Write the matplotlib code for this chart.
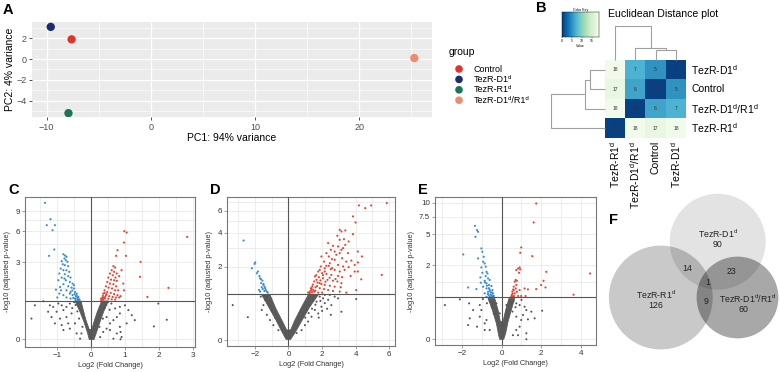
import numpy as np
import matplotlib
matplotlib.use('Agg')
import matplotlib.pyplot as plt
from matplotlib.patches import Circle, Polygon
from matplotlib.ticker import FixedLocator

plt.rcParams['font.family'] = ['Liberation Sans', 'DejaVu Sans']
plt.rcParams['mathtext.fontset'] = 'custom'
plt.rcParams['mathtext.rm'] = 'Liberation Sans'
plt.rcParams['mathtext.it'] = 'Liberation Sans:italic'
plt.rcParams['mathtext.bf'] = 'Liberation Sans:bold'

# ---------------- data ----------------
D1 = 'TezR-D1$^{\\rm d}$'
R1 = 'TezR-R1$^{\\rm d}$'
DR = 'TezR-D1$^{\\rm d}$/R1$^{\\rm d}$'

pca_groups = ['Control', 'TezR-D1\u1d48', 'TezR-R1\u1d48', 'TezR-D1\u1d48/R1\u1d48']
pca_pc1 = [-7.6, -9.6, -7.9, 25.3]
pca_pc2 = [1.9, 3.1, -5.2, 0.1]
pca_colors = ['#e2332a', '#1c2d6b', '#1a7558', '#f08a6c']

hm_rows = [D1, 'Control', DR, R1]
hm_cols = [R1, DR, 'Control', D1]
hm_values = [[18, 7, 5, 0],
             [17, 6, 0, 5],
             [18, 0, 6, 7],
             [0, 18, 17, 18]]
row_merges = [(0, 1, 5.0), (4, 2, 6.5), (5, 3, 17.7)]
col_merges = [(2, 3, 5.0), (1, 4, 6.5), (0, 5, 17.7)]

C_up = [(0.98,5.98),(1.05,5.81),(0.97,4.69),(0.78,3.96),(0.74,3.48),(1.03,3.48),(1.46,3.02),(1.44,2.07),
        (2.28,1.52),(1.66,1.14),(2.83,5.30),
        (0.66,2.72),(0.71,2.63),(0.61,2.46),(0.68,2.36),(0.76,2.26),(0.56,2.26),(0.64,2.16),(0.72,2.03),
        (0.51,2.03),(0.59,1.92),(0.68,1.89),(0.76,1.86),(0.48,1.80),(0.56,1.72),(0.66,1.69),(0.74,1.59),
        (0.44,1.59),(0.52,1.53),(0.62,1.49),(0.71,1.41),(0.80,1.41),(0.40,1.41),(0.48,1.34),(0.58,1.30),
        (0.68,1.25),(0.78,1.21),(0.36,1.27),(0.44,1.21),(0.54,1.17),(0.64,1.14),(0.74,1.12),(0.83,1.12),
        (0.34,1.12),(0.41,1.08),(0.51,1.07),(0.61,1.05),(0.71,1.04),(0.36,1.04),(0.87,1.17),(0.97,1.41),
        (0.95,1.72),(0.83,2.11),(0.90,2.46),(0.30,1.02),(0.33,1.06),(0.38,1.10),(0.30,1.08),(0.42,1.15),
        (0.35,1.18),(0.46,1.25),(0.40,1.30)]
C_down = [(-1.35,10.61),(-1.19,7.65),(-1.30,6.77),(-1.06,6.77),(-1.13,6.10),(-1.08,4.02),(-1.23,3.48),
          (-1.94,2.46),(-0.81,3.61),(-0.76,3.50),(-0.72,3.40),(-0.78,3.27),(-0.86,3.07),(-0.74,3.14),
          (-0.69,3.02),(-0.83,2.85),(-0.77,2.79),(-0.67,2.72),(-0.89,2.56),(-0.81,2.46),(-0.72,2.46),
          (-0.64,2.36),(-0.93,2.26),(-0.77,2.22),(-0.67,2.11),(-0.60,2.03),(-0.86,2.03),(-0.96,1.89),
          (-0.74,1.89),(-0.62,1.80),(-0.54,1.72),(-0.81,1.69),(-0.91,1.56),(-0.67,1.59),(-0.57,1.53),
          (-0.50,1.49),(-1.03,1.44),(-0.72,1.41),(-0.60,1.34),(-0.47,1.34),(-0.42,1.27),(-0.93,1.27),
          (-0.81,1.21),(-0.54,1.21),(-0.44,1.17),(-0.37,1.14),(-0.99,1.12),(-0.72,1.12),(-0.60,1.08),
          (-0.47,1.08),(-0.40,1.07),(-0.34,1.04),(-0.88,1.41),(-0.62,1.27),(-0.50,1.64),(-0.78,1.98),
          (-0.45,1.02),(-0.38,1.02),(-0.52,1.10),(-0.42,1.20),(-0.48,1.25),(-0.55,1.40),(-0.40,1.12),
          (-0.36,1.05)]
C_ns = [(-1.65,0.84),(-1.40,0.98),(-1.75,0.45),(-1.21,0.84),(-1.11,0.79),(-0.96,0.90),(-0.86,0.84),
        (-1.26,0.64),(-1.01,0.64),(-0.81,0.69),(-0.72,0.79),(-0.62,0.90),(-1.16,0.49),(-0.91,0.45),
        (-0.72,0.49),(-0.57,0.59),(-1.06,0.33),(-0.86,0.29),(-0.67,0.33),(-0.81,0.18),(-0.62,0.21),
        (-0.47,0.33),(-0.42,0.11),(-0.28,0.11),(-0.32,0.01),(0.27,0.04),(0.36,0.14),(0.46,0.21),
        (0.56,0.33),(0.66,0.41),(0.76,0.49),(0.85,0.59),(0.71,0.74),(0.85,0.79),(1.00,0.84),(1.10,0.69),
        (1.20,0.54),(1.29,0.41),(1.05,0.33),(0.85,0.25),(0.56,0.18),(0.76,0.11),(0.90,0.04),(0.66,0.01),
        (0.87,0.0),(1.98,0.90),(1.85,0.26),(2.23,0.42),(0.46,0.49),(0.87,0.14),(-0.55,0.75),(-0.45,0.85),
        (-0.40,0.65),(0.45,0.85),(0.55,0.70),(0.60,0.90),(0.40,0.75),(-0.50,0.95),(0.50,0.95),
        (-0.35,0.45),(0.35,0.45),(-0.25,0.25),(0.25,0.25)]
C_core = [(-0.47,0.99),(-0.32,0.635),(-0.206,0.366),(-0.108,0.141),(-0.049,-0.006),(0.088,-0.006),
          (0.167,0.141),(0.265,0.366),(0.382,0.665),(0.51,0.99),(0.314,0.99),(0.186,0.635),(0.088,0.366),
          (0.02,0.19),(-0.049,0.19),(-0.147,0.407),(-0.225,0.685),(-0.294,0.99)]

D_up = [(4.19,6.56),(4.57,6.26),(4.92,6.56),(5.85,6.83),(3.84,5.41),(3.99,4.85),(3.05,4.24),(3.15,4.11),
        (3.38,4.19),(3.84,3.91),(2.91,3.79),(3.05,3.51),(3.30,3.55),(3.58,3.40),(2.36,3.29),(2.65,3.12),
        (2.95,3.08),(3.25,2.98),(3.38,3.18),(2.52,2.88),(2.75,2.78),(3.05,2.69),(3.54,2.69),(4.13,2.78),
        (2.26,2.69),(1.96,2.51),(2.40,2.51),(2.75,2.34),(3.19,2.42),(3.44,2.25),(3.74,2.30),(4.37,2.51),
        (2.12,2.25),(2.46,2.17),(2.95,2.09),(3.25,2.02),(3.58,1.99),(3.94,2.09),(4.13,2.21),(1.92,2.02),
        (2.16,1.94),(2.52,1.90),(2.75,1.87),(3.05,1.80),(3.34,1.87),(3.94,1.80),(4.13,1.80),(1.77,1.80),
        (2.00,1.73),(2.26,1.70),(2.55,1.66),(2.95,1.62),(3.19,1.57),(3.70,1.62),(4.33,1.49),(5.55,1.66),
        (1.57,1.60),(1.81,1.57),(2.06,1.53),(2.32,1.47),(2.65,1.44),(2.91,1.41),(3.15,1.35),(1.53,1.41),
        (1.73,1.37),(1.96,1.32),(2.16,1.29),(2.46,1.26),(2.75,1.23),(3.11,1.21),(1.41,1.23),(1.61,1.21),
        (1.86,1.18),(2.12,1.15),(2.36,1.12),(2.65,1.09),(3.05,1.07),(3.44,1.04),(4.03,1.12),(1.33,1.10),
        (1.53,1.07),(1.77,1.04),(2.00,1.04),(1.27,1.02),(1.67,1.47),(2.16,1.80),(1.86,1.87),(2.40,2.05),
        (2.59,2.37),(2.85,2.60),(3.15,2.88),(1.33,1.18),(1.47,1.12),(1.17,1.04),(1.25,1.06),(1.40,1.05),
        (1.60,1.10),(1.45,1.30),(1.70,1.25),(1.85,1.35),(1.65,1.65),(1.90,1.45),(2.05,1.65),(2.20,1.40),
        (1.38,1.15),(2.25,2.05),(2.45,1.55),(2.60,1.95),(2.80,1.50)]
D_down = [(-2.67,3.46),(-1.98,2.21),(-2.02,2.14),(-2.18,1.94),(-1.82,1.80),(-1.88,1.73),(-1.73,1.62),
          (-1.69,1.53),(-1.63,1.49),(-1.55,1.44),(-1.63,1.35),(-1.49,1.29),(-1.43,1.23),(-1.39,1.18),
          (-1.53,1.15),(-1.35,1.12),(-1.29,1.07),(-1.43,1.09),(-1.23,1.04),(-1.69,1.07),(-1.75,1.12),
          (-1.59,1.21),(-1.49,1.32)]
D_ns = [(-3.32,0.69),(-2.42,0.41),(-1.39,0.83),(-1.49,0.69),(-1.59,0.57),(-1.29,0.46),(-1.10,0.35),
        (-0.90,0.25),(-0.60,0.16),(1.86,0.92),(2.06,0.87),(2.36,0.83),(2.16,0.74),(2.55,0.69),(1.96,0.65),
        (1.57,0.57),(1.77,0.49),(1.37,0.42),(1.17,0.32),(0.98,0.25),(2.75,0.92),(3.15,0.53),(2.52,0.46),
        (4.03,0.85),(2.16,0.97),(0.78,0.16),(0.48,0.11),(1.47,0.83),(1.67,0.78),(1.27,0.69),(1.08,0.57),
        (2.46,0.97),(2.95,0.87),(-1.45,0.95),(-1.30,0.90),(-1.20,0.75),(-1.00,0.55),(-0.80,0.40),
        (-1.65,0.92),(1.90,0.80),(1.60,0.70),(1.40,0.60),(1.20,0.50),(1.00,0.40),(2.30,0.60),(2.00,0.55),
        (1.80,0.40)]
D_core = [(-1.588,0.97),(-1.193,0.652),(-0.799,0.386),(-0.444,0.163),(-0.148,0.01),(0.128,0.01),
          (0.424,0.134),(0.819,0.352),(1.272,0.652),(1.765,0.97),(1.174,0.97),(0.74,0.611),(0.385,0.352),
          (0.128,0.163),(-0.108,0.163),(-0.404,0.352),(-0.759,0.611),(-1.095,0.97)]

E_up = [(1.75,9.82),(1.62,6.61),(0.99,3.51),(0.94,3.00),(1.55,2.70),(0.91,1.84),(2.26,1.56),(4.48,1.46),
        (0.83,1.77),(0.74,1.67),(0.94,1.71),(0.88,1.50),(0.71,1.11),(0.66,1.03),(0.77,1.07),(0.74,0.88),
        (0.61,0.81),(0.71,0.74),(0.61,0.68),(0.54,0.62),(0.77,0.62),(0.91,0.68),(0.66,0.566),(0.51,0.514),
        (0.62,0.484),(0.83,0.484),(0.99,0.484),(1.16,0.74),(1.33,0.705),(1.75,0.717),(2.00,0.88),
        (2.12,1.07),(2.22,0.78),(3.64,0.524),(0.49,0.46),(0.57,0.46),(1.21,0.484),(0.55,0.55),(0.58,0.70),
        (0.50,0.48)]
E_down = [(-1.36,6.12),(-1.25,5.53),(-1.20,5.31),(-1.33,4.68),(-1.95,2.85),(-1.03,3.41),(-0.98,3.09),
          (-1.20,2.51),(-0.91,2.65),(-0.94,2.25),(-0.86,2.12),(-1.03,1.84),(-0.81,1.89),(-0.77,1.56),
          (-0.72,1.46),(-0.98,1.50),(-1.08,1.24),(-0.81,1.31),(-0.69,1.19),(-0.61,1.11),(-0.86,1.07),
          (-1.06,0.98),(-0.77,0.95),(-0.64,0.88),(-0.52,0.835),(-0.94,0.81),(-0.77,0.74),(-0.61,0.705),
          (-0.47,0.68),(-0.69,0.62),(-0.56,0.588),(-0.44,0.566),(-0.86,0.566),(-0.66,0.514),(-0.52,0.484),
          (-0.40,0.484),(-1.70,0.78),(-1.28,0.717),(-0.77,0.464),(-0.61,0.464),(-0.47,0.455),(-0.55,0.52),
          (-0.45,0.50),(-0.70,0.55),(-0.60,0.65),(-0.50,0.60),(-0.75,0.85),(-0.85,1.0),(-0.65,0.75)]
E_ns = [(-2.88,0.262),(-2.12,0.392),(-1.65,0.297),(-1.11,0.262),(-1.45,0.173),(-1.03,0.173),(-1.62,0.072),
        (-1.11,0.088),(-1.70,0.026),(-1.25,0.019),(-0.86,0.035),(-0.77,0.058),(-0.61,0.0085),(-0.86,0.0085),
        (0.74,0.297),(0.91,0.262),(1.16,0.23),(1.25,0.173),(1.50,0.149),(1.08,0.106),(0.74,0.088),
        (0.99,0.058),(1.33,0.063),(1.67,0.072),(0.91,0.019),(0.74,0.0085),(1.25,0.0027),(2.05,0.163),
        (1.25,0.0),(0.57,0.001),(0.83,0.001),(0.40,0.335),(0.24,0.262),(-0.27,0.297),(-0.10,0.126),
        (-0.60,0.35),(-0.75,0.30),(-0.50,0.22),(-0.40,0.12),(0.50,0.30),(0.60,0.35),(0.70,0.22),
        (0.55,0.15),(-0.95,0.40),(1.00,0.38)]
E_core = [(-0.690,0.418),(-0.471,0.173),(-0.269,0.035),(-0.135,0.0003),(-0.101,0.0),(0.101,0.0),
          (0.202,0.0027),(0.320,0.0456),(0.488,0.173),(0.657,0.418),(0.370,0.418),(0.202,0.173),
          (0.067,0.0456),(-0.067,0.0456),(-0.185,0.173),(-0.354,0.418)]

venn_labels = [D1, R1, DR]
venn_only = [90, 126, 60]
venn_pairs = {'D1_R1': 14, 'D1_DR': 23, 'R1_DR': 9}
venn_all = 1

# ---------------- figure ----------------
W, H = 780, 372
fig = plt.figure(figsize=(W / 100, H / 100), dpi=100)


def px_axes(x0, y0, x1, y1, **kw):
    return fig.add_axes([x0 / W, 1 - y1 / H, (x1 - x0) / W, (y1 - y0) / H], **kw)


def ftext(x, y, s, **kw):
    return fig.text(x / W, 1 - y / H, s, **kw)


# ---- panel A ----
ax = px_axes(32, 22, 432, 117)
ax.set_facecolor('#EBEBEB')
for s in ax.spines.values():
    s.set_visible(False)
ax.set_xlim(-11.4, 27.0)
ax.set_ylim(-5.57, 3.57)
ax.set_xticks([-10, 0, 10, 20])
ax.set_yticks([-4, -2, 0, 2])
ax.xaxis.set_minor_locator(FixedLocator([-5, 5, 15, 25]))
ax.yaxis.set_minor_locator(FixedLocator([-5, -3, -1, 1, 3]))
ax.grid(True, which='major', color='white', lw=0.9)
ax.grid(True, which='minor', color='white', lw=0.45)
ax.set_axisbelow(True)
ax.tick_params(which='major', length=2.5, width=0.6, color='#333333', labelsize=6.5,
               labelcolor='#4d4d4d', pad=1.5)
ax.tick_params(which='minor', length=0)
ax.scatter(pca_pc1, pca_pc2, c=pca_colors, s=36, zorder=3, edgecolors='none')
ax.set_xlabel('PC1: 94% variance', fontsize=7.5, labelpad=1)
ax.set_ylabel('PC2: 4% variance', fontsize=7.5, labelpad=1)

# legend (drawn manually in its own pixel-unit axes)
axl = px_axes(440, 40, 560, 112)
axl.set_xlim(440, 560)
axl.set_ylim(112, 40)
axl.axis('off')
axl.text(449, 52, 'group', fontsize=7.5, va='center', ha='left')
for i, (lab, col) in enumerate(zip(pca_groups, pca_colors)):
    yy = 69 + i * 10.4
    axl.scatter([459], [yy], s=30, c=col, edgecolors='none', clip_on=False)
    axl.text(474, yy, lab, fontsize=6.5, va='center', ha='left')
ftext(8, 10, 'A', fontsize=10.5, fontweight='bold', va='center', ha='center')

# ---- panel B: heatmap ----
hx0, hy0, hx1, hy1 = 605, 60, 686, 138
axh = px_axes(hx0, hy0, hx1, hy1)
vals = np.array(hm_values, float)
axh.imshow(vals, cmap='GnBu_r', vmin=0, vmax=18.5, aspect='auto', interpolation='nearest')
for i in range(vals.shape[0]):
    for j in range(vals.shape[1]):
        axh.text(j, i, f'{int(vals[i, j])}', ha='center', va='center', fontsize=3.6, color='#303030')
axh.set_xticks([]); axh.set_yticks([])
for s in axh.spines.values():
    s.set_visible(False)
nr, nc = vals.shape
for i, lab in enumerate(hm_rows):
    ftext(hx1 + 5, hy0 + (i + 0.5) * (hy1 - hy0) / nr, lab, fontsize=7.5, va='center', ha='left')
for j, lab in enumerate(hm_cols):
    ftext(hx0 + (j + 0.5) * (hx1 - hx0) / nc, hy1 + 3, lab, fontsize=7.5, va='top', ha='center',
          rotation=90)


def dendro_segments(merges, n):
    pos = {i: float(i) for i in range(n)}
    hgt = {i: 0.0 for i in range(n)}
    segs = []
    for k, (a, b, h) in enumerate(merges):
        segs.append(([pos[a], pos[a], pos[b], pos[b]], [hgt[a], h, h, hgt[b]]))
        pos[n + k] = (pos[a] + pos[b]) / 2
        hgt[n + k] = h
    return segs


dcol = '#a0a0a0'
axr = px_axes(551, hy0, hx0, hy1)
for p, h in dendro_segments(row_merges, nr):
    axr.plot(h, p, color=dcol, lw=0.8, clip_on=False, solid_capstyle='butt')
axr.set_xlim(max(m[2] for m in row_merges), 0)
axr.set_ylim(nr - 0.5, -0.5)
axr.axis('off')

axc = px_axes(hx0, 22, hx1, hy0)
for p, h in dendro_segments(col_merges, nc):
    axc.plot(p, h, color=dcol, lw=0.8, clip_on=False, solid_capstyle='butt')
axc.set_xlim(-0.5, nc - 0.5)
axc.set_ylim(0, max(m[2] for m in col_merges) * 38 / 34)
axc.axis('off')

# color key
axk = px_axes(562, 12, 599, 37)
grad = np.linspace(0, 18.5, 100)[None, :]
axk.imshow(grad, cmap='GnBu_r', vmin=0, vmax=18.5, aspect='auto', extent=(0, 18.5, 0, 1))
axk.set_xticks([0, 5, 10, 15])
axk.set_yticks([])
axk.tick_params(axis='x', labelsize=2.5, length=1, width=0.3, pad=0.5)
axk.set_title('Color Key', fontsize=2.5, pad=1)
axk.set_xlabel('Value', fontsize=2.5, labelpad=0.5)
for s in axk.spines.values():
    s.set_linewidth(0.3)
ftext(608, 14, 'Euclidean Distance plot', fontsize=7.6, va='center', ha='left')
ftext(541, 8, 'B', fontsize=10.5, fontweight='bold', va='center', ha='center')


# ---- volcano panels ----
def log1p_f(y):
    return np.log1p(np.asarray(y, float))


def log1p_i(u):
    return np.expm1(np.asarray(u, float))


def pow_f(y):
    y = np.asarray(y, float)
    return np.sign(y) * np.abs(y) ** 0.38


def pow_i(u):
    u = np.asarray(u, float)
    return np.sign(u) * np.abs(u) ** (1 / 0.38)


def volcano(box, xlim, ylim, funcs, xt, yt, ytl, xminor, yminor, up, down, ns, core, thr, letter):
    a = px_axes(*box)
    a.set_yscale('function', functions=funcs)
    a.set_xlim(*xlim)
    a.set_ylim(*ylim)
    a.set_xticks(xt)
    a.set_yticks(yt)
    a.set_yticklabels(ytl)
    a.xaxis.set_minor_locator(FixedLocator(xminor))
    a.yaxis.set_minor_locator(FixedLocator(yminor))
    a.grid(True, which='both', color='#e6e6e6', lw=0.5)
    a.set_axisbelow(True)
    a.tick_params(which='major', labelsize=5.8, labelcolor='#333333', length=2, width=0.5,
                  color='#777777', pad=1.5)
    a.tick_params(which='minor', length=0)
    for s in a.spines.values():
        s.set_color('#777777')
        s.set_linewidth(0.8)
    a.add_patch(Polygon(core, closed=True, facecolor='#5a5a5a', edgecolor='#5a5a5a', lw=0.6, zorder=2))
    n = np.array(ns)
    a.scatter(n[:, 0], n[:, 1], s=2.2, c='#555555', edgecolors='none', zorder=2)
    d = np.array(down)
    a.scatter(d[:, 0], d[:, 1], s=2.4, c='#3a8cd0', edgecolors='none', zorder=3)
    u = np.array(up)
    a.scatter(u[:, 0], u[:, 1], s=2.4, c='#e8432f', edgecolors='none', zorder=3)
    a.axvline(0, color='#555555', lw=0.8, zorder=4)
    a.axhline(thr, color='#555555', lw=0.8, zorder=4)
    a.set_xlabel('Log2 (Fold Change)', fontsize=5.3, color='#333333', labelpad=2)
    a.set_ylabel('-log10 (adjusted p-value)', fontsize=5.3, color='#333333', labelpad=3)
    ftext(box[0] - 17, 190, letter, fontsize=10.5, fontweight='bold', va='center', ha='left')
    return a


volcano((25, 197, 195, 347), (-1.94, 3.06), (-0.13, 11.9), (log1p_f, log1p_i),
        [-1, 0, 1, 2, 3], [0, 3, 6, 9], ['0', '3', '6', '9'],
        [-1.5, -0.5, 0.5, 1.5, 2.5], [1.5, 4.5, 7.5], C_up, C_down, C_ns, C_core, 1.0, 'C')
volcano((227, 197, 395, 346), (-3.66, 6.34), (-0.086, 7.58), (log1p_f, log1p_i),
        [-2, 0, 2, 4, 6], [0, 2, 4, 6], ['0', '2', '4', '6'],
        [-3, -1, 1, 3, 5], [1, 3, 5, 7], D_up, D_down, D_ns, D_core, 1.0, 'D')
volcano((435, 197, 596, 345), (-3.38, 4.78), (-0.0023, 11.1), (pow_f, pow_i),
        [-2, 0, 2, 4], [0, 2, 5, 7.5, 10], ['0', '2', '5', '7.5', '10'],
        [-3, -1, 1, 3], [1, 3.5], E_up, E_down, E_ns, E_core, 0.446, 'E')

# ---- panel F: venn ----
axv = px_axes(600, 180, 780, 365)
axv.set_xlim(600, 780)
axv.set_ylim(365, 180)
axv.axis('off')
totals = [venn_only[0] + venn_pairs['D1_R1'] + venn_pairs['D1_DR'] + venn_all,
          venn_only[1] + venn_pairs['D1_R1'] + venn_pairs['R1_DR'] + venn_all,
          venn_only[2] + venn_pairs['D1_DR'] + venn_pairs['R1_DR'] + venn_all]
centers = [(717.7, 241.7), (660.8, 297.5), (737.5, 297.5)]
alphas = [0.11, 0.21, 0.34]
for (cx, cy), t, al in zip(centers, totals, alphas):
    axv.add_patch(Circle((cx, cy), 4.24 * np.sqrt(t), facecolor='black', alpha=al, edgecolor='none'))
vfs = 6.3
axv.text(717.7, 234, venn_labels[0], fontsize=vfs, ha='center', va='center', color='#222222')
axv.text(717.7, 244.5, str(venn_only[0]), fontsize=vfs, ha='center', va='center', color='#222222')
axv.text(656, 294.5, venn_labels[1], fontsize=vfs, ha='center', va='center', color='#222222')
axv.text(656, 305, str(venn_only[1]), fontsize=vfs, ha='center', va='center', color='#222222')
axv.text(748, 299, venn_labels[2], fontsize=vfs, ha='center', va='center', color='#222222')
axv.text(743, 309.5, str(venn_only[2]), fontsize=vfs, ha='center', va='center', color='#222222')
axv.text(687.3, 268.3, str(venn_pairs['D1_R1']), fontsize=vfs, ha='center', va='center', color='#222222')
axv.text(731, 271.7, str(venn_pairs['D1_DR']), fontsize=vfs, ha='center', va='center', color='#222222')
axv.text(705.7, 301.7, str(venn_pairs['R1_DR']), fontsize=vfs, ha='center', va='center', color='#222222')
axv.text(707.3, 282.7, str(venn_all), fontsize=vfs, ha='center', va='center', color='#222222')
ftext(613, 220, 'F', fontsize=10.5, fontweight='bold', va='center', ha='center')

fig.savefig('out.png', dpi=100)
